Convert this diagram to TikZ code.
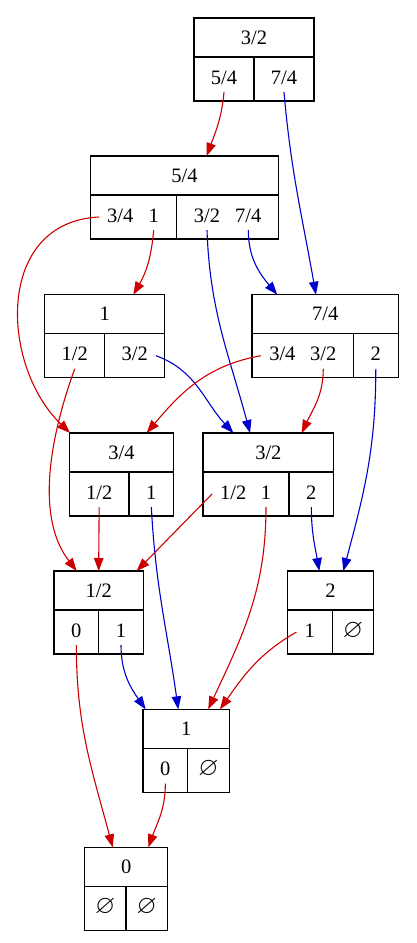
\documentclass[tikz,border=0pt]{standalone}
\usepackage{fontspec}
\usepackage{amssymb}
\setmainfont{Liberation Serif}
\usetikzlibrary{arrows.meta}
\definecolor{redc}{HTML}{CD0000}
\definecolor{bluec}{HTML}{0000CD}
\newcommand{\nix}{{\fontsize{26}{28}\selectfont$\varnothing$}}
\begin{document}
\begin{tikzpicture}[
		x=1pt, y=-1pt,
		font=\fontsize{20.5}{24}\selectfont,
		hdr/.style={draw, line width=1.2pt, minimum height=39pt, inner sep=0pt, outer sep=0pt},
		cell/.style={draw, line width=1.2pt, minimum height=44pt, inner sep=0pt, outer sep=0pt},
		lbl/.style={inner xsep=8pt, inner ysep=0pt, text height=13.5pt,
			text depth=3pt, minimum height=26pt},
		rd/.style={draw=redc, line width=1.1pt, -{Triangle[length=13pt,width=9.5pt]}},
		bl/.style={draw=bluec, line width=1.1pt, -{Triangle[length=13pt,width=9.5pt]}},
	]
		\useasboundingbox (0,0) rectangle (416,943);

		% Knoten mit absoluten Koordinaten (Kopfzeile + zwei Zellen)
		\node[hdr, minimum width=120pt] (A) at (254,37.5) {3/2};
		\node[cell, minimum width=60pt, anchor=north west] (Al) at (A.south west) {};
		\node[cell, minimum width=60pt, anchor=north east] (Ar) at (A.south east) {};
		\node[lbl] (A54) at (Al) {5/4};
		\node[lbl] (A74) at (Ar) {7/4};

		\node[hdr, minimum width=187.6pt] (B) at (184.5,175.5) {5/4};
		\node[cell, minimum width=86pt, anchor=north west] (Bl) at (B.south west) {};
		\node[cell, minimum width=101.6pt, anchor=north east] (Br) at (B.south east) {};
		\node[lbl, xshift=-13.4pt] (B34) at (Bl) {3/4};
		\node[lbl, xshift=20pt] (B1) at (Bl) {1};
		\node[lbl, xshift=-20.5pt] (B32) at (Br) {3/2};
		\node[lbl, xshift=20.8pt] (B74) at (Br) {7/4};

		\node[hdr, minimum width=120pt] (C) at (104.7,314.2) {1};
		\node[cell, minimum width=60pt, anchor=north west] (Cl) at (C.south west) {};
		\node[cell, minimum width=60pt, anchor=north east] (Cr) at (C.south east) {};
		\node[lbl] (C12) at (Cl) {1/2};
		\node[lbl] (C32) at (Cr) {3/2};

		\node[hdr, minimum width=146.3pt] (D) at (325.15,314.2) {7/4};
		\node[cell, minimum width=101.3pt, anchor=north west] (Dl) at (D.south west) {};
		\node[cell, minimum width=45pt, anchor=north east] (Dr) at (D.south east) {};
		\node[lbl, xshift=-20.3pt] (D34) at (Dl) {3/4};
		\node[lbl, xshift=20.6pt] (D32) at (Dl) {3/2};
		\node[lbl] (D2) at (Dr) {2};

		\node[hdr, minimum width=104.4pt] (E) at (121.5,452.5) {3/4};
		\node[cell, minimum width=59.7pt, anchor=north west] (El) at (E.south west) {};
		\node[cell, minimum width=44.7pt, anchor=north east] (Er) at (E.south east) {};
		\node[lbl] (E12) at (El) {1/2};
		\node[lbl] (E1) at (Er) {1};

		\node[hdr, minimum width=130.7pt] (F) at (268.35,452.5) {3/2};
		\node[cell, minimum width=86pt, anchor=north west] (Fl) at (F.south west) {};
		\node[cell, minimum width=44.7pt, anchor=north east] (Fr) at (F.south east) {};
		\node[lbl, xshift=-12.7pt] (F12) at (Fl) {1/2};
		\node[lbl, xshift=20pt] (F1) at (Fl) {1};
		\node[lbl] (F2) at (Fr) {2};

		\node[hdr, minimum width=89.3pt] (G) at (98.65,590.5) {1/2};
		\node[cell, minimum width=44.7pt, anchor=north west] (Gl) at (G.south west) {};
		\node[cell, minimum width=44.6pt, anchor=north east] (Gr) at (G.south east) {};
		\node[lbl] (G0) at (Gl) {0};
		\node[lbl] (G1) at (Gr) {1};

		\node[hdr, minimum width=86.4pt] (H) at (330.5,590.5) {2};
		\node[cell, minimum width=45pt, anchor=north west] (Hl) at (H.south west) {};
		\node[cell, minimum width=41.4pt, anchor=north east] (Hr) at (H.south east) {};
		\node[lbl] (H1) at (Hl) {1};
		\node[lbl] (Hn) at (Hr) {\nix};

		\node[hdr, minimum width=86.3pt] (I) at (186.15,728.8) {1};
		\node[cell, minimum width=44.7pt, anchor=north west] (Il) at (I.south west) {};
		\node[cell, minimum width=41.6pt, anchor=north east] (Ir) at (I.south east) {};
		\node[lbl] (I0) at (Il) {0};
		\node[lbl] (In) at (Ir) {\nix};

		\node[hdr, minimum width=83pt] (J) at (126.2,866.8) {0};
		\node[cell, minimum width=41.3pt, anchor=north west] (Jl) at (J.south west) {};
		\node[cell, minimum width=41.7pt, anchor=north east] (Jr) at (J.south east) {};
		\node[lbl] (Jn1) at (Jl) {\nix};
		\node[lbl] (Jn2) at (Jr) {\nix};

		% Kanten (rot = links, blau = rechts)
		\draw[rd] (A54.south) to[out=-95,in=70] ([xshift=22.2pt]B.north);
		\draw[bl] (A74.south) to[out=-85,in=100] ([xshift=-9.2pt]D.north);
		\draw[rd] (B34.west) .. controls (-5,222) and (0,365) .. ([xshift=-51.5pt]E.north);
		\draw[rd] (B1.south) to[out=-95,in=60] ([xshift=28.6pt]C.north);
		\draw[bl] (B32.south) to[out=-88,in=105] ([xshift=-18.3pt]F.north);
		\draw[bl] (B74.south) to[out=-90,in=130] ([xshift=-47.9pt]D.north);
		\draw[rd] (C12.south) .. controls (58,415) and (30,510) .. ([xshift=-22pt]G.north);
		\draw[bl] (C32.east) to[out=-20,in=133] ([xshift=-35pt]F.north);
		\draw[rd] (D34.west) to[out=190,in=50] ([xshift=25.2pt]E.north);
		\draw[rd] (D32.south) to[out=-90,in=65] ([xshift=33.4pt]F.north);
		\draw[bl] (D2.south) to[out=-90,in=75] ([xshift=12.8pt]H.north);
		\draw[rd] (E12.south) -- (G.north);
		\draw[bl] (E1.south) to[out=-87,in=98] ([xshift=-7.9pt]I.north);
		\draw[rd] (F12.west) -- ([xshift=38pt]G.north);
		\draw[rd] (F1.south) to[out=-90,in=65] ([xshift=22.1pt]I.north);
		\draw[bl] (F2.south) to[out=-90,in=100] ([xshift=-11.2pt]H.north);
		\draw[rd] (G0.south) to[out=-90,in=105] ([xshift=-13.5pt]J.north);
		\draw[bl] (G1.south) to[out=-90,in=125] ([xshift=-40.5pt]I.north);
		\draw[rd] (H1.west) to[out=210,in=55] ([xshift=33.8pt]I.north);
		\draw[rd] (I0.south) to[out=-90,in=70] ([xshift=22.1pt]J.north);
	\end{tikzpicture}
\end{document}
